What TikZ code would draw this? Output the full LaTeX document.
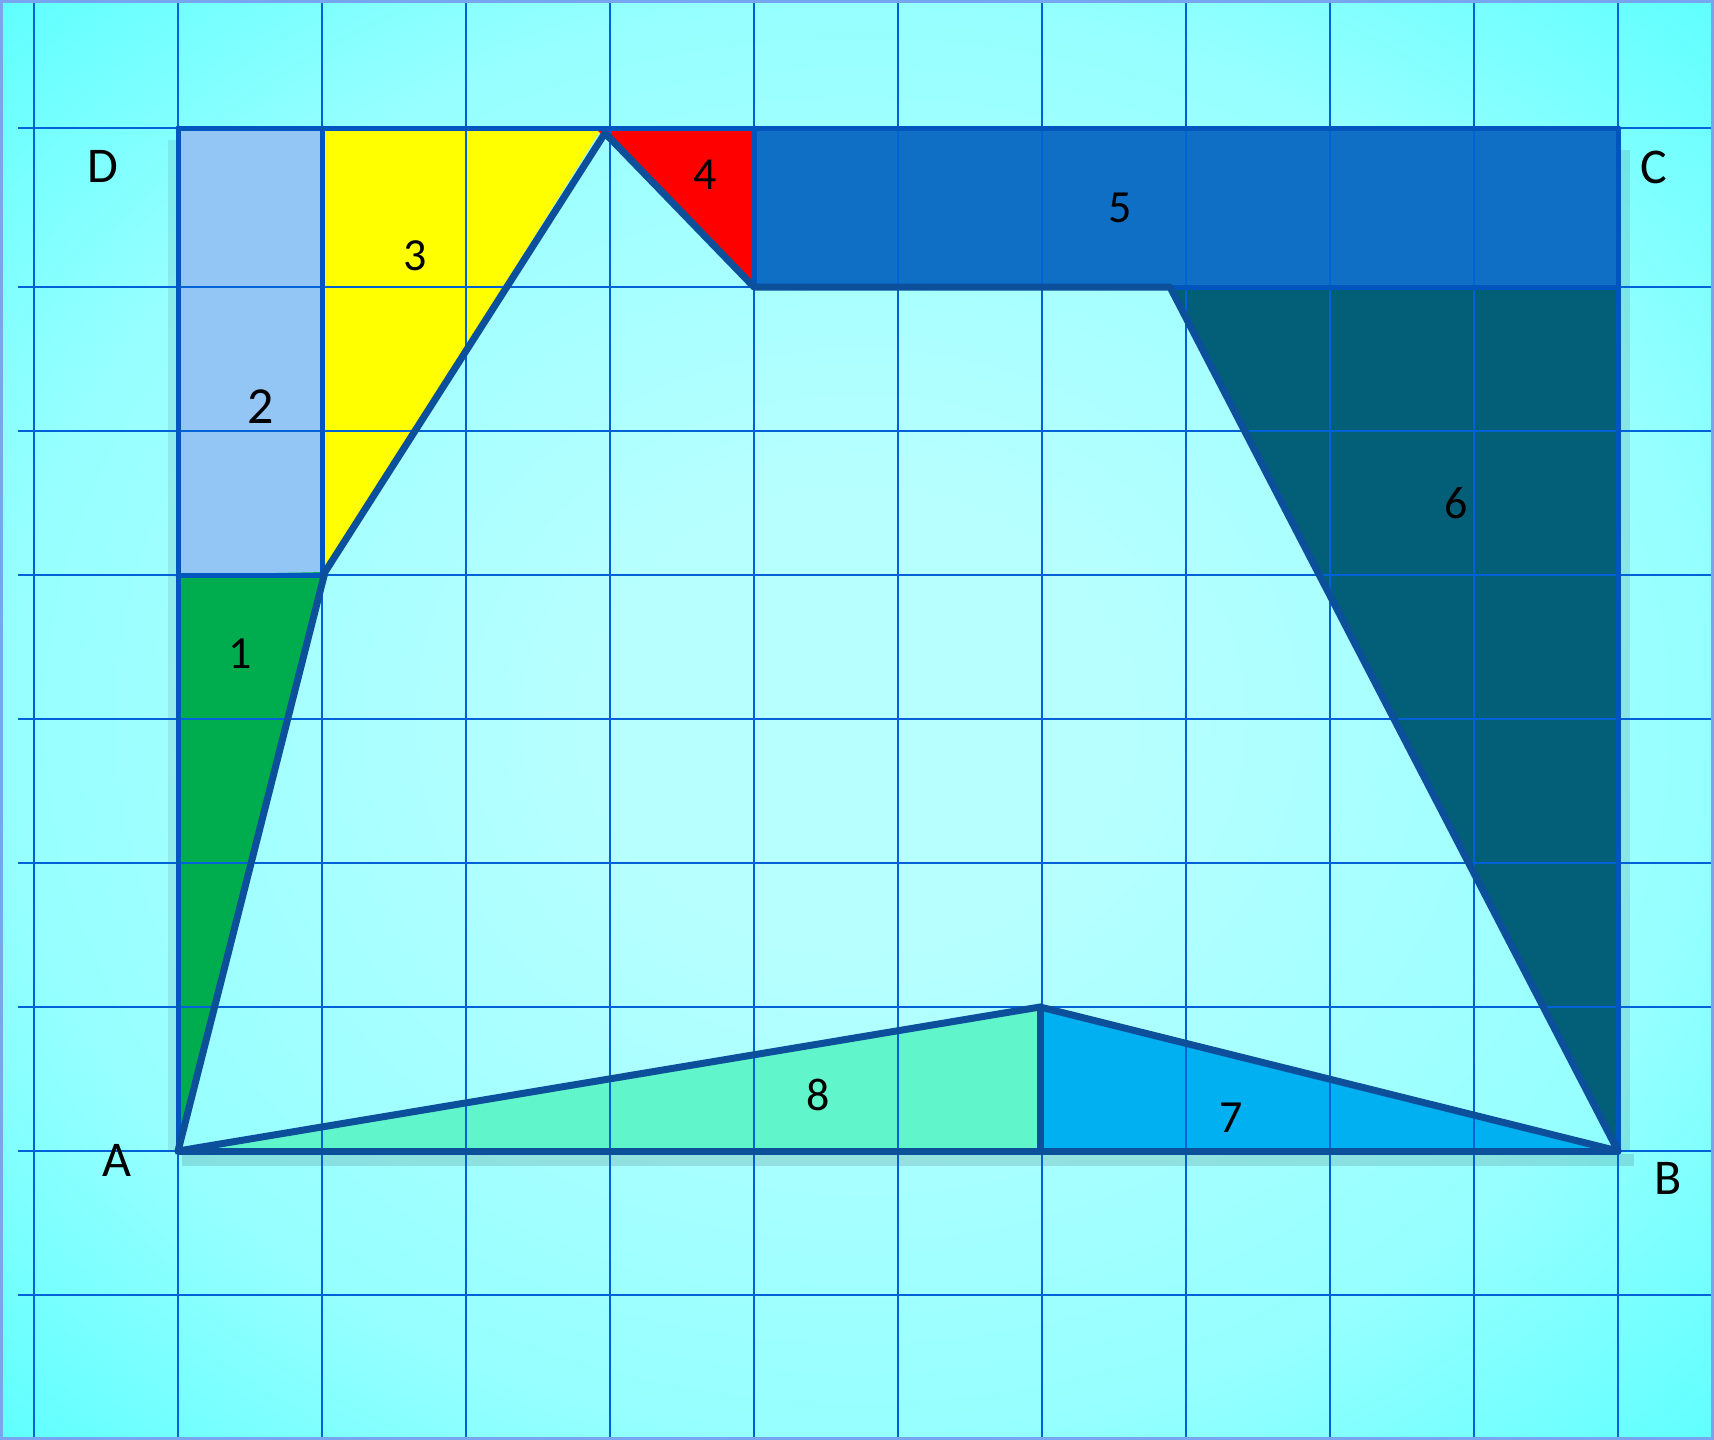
\documentclass[tikz,border=0pt]{standalone}
\usepackage{fontspec}
\setmainfont{Carlito}
\definecolor{bgin}{RGB}{183,255,255}
\definecolor{bgmid}{RGB}{150,255,255}
\definecolor{bgout}{RGB}{92,255,255}
\definecolor{gridblue}{RGB}{0,98,214}
\definecolor{outblue}{RGB}{12,80,156}
\definecolor{edgeblue}{RGB}{0,86,190}
\definecolor{framec}{RGB}{120,165,240}
\definecolor{cone}{RGB}{0,173,78}
\definecolor{ctwo}{RGB}{147,197,245}
\definecolor{cthree}{RGB}{255,255,0}
\definecolor{cfour}{RGB}{255,0,0}
\definecolor{cfive}{RGB}{14,111,197}
\definecolor{csix}{RGB}{2,95,119}
\definecolor{cseven}{RGB}{0,176,240}
\definecolor{ceight}{RGB}{96,245,202}
\pgfdeclareradialshading{bgshade}{\pgfpoint{0bp}{0bp}}{color(0bp)=(bgin); color(8bp)=(bgin); color(25bp)=(bgmid); color(36bp)=(bgout); color(50bp)=(bgout)}
\begin{document}
\begin{tikzpicture}[x=1pt,y=-1pt,
  gridline/.style={draw=gridblue,line width=2.6pt},
  outline/.style={draw=outblue,line width=7pt,line join=round,line cap=round},
  edge/.style={draw=edgeblue,line width=5pt,line cap=round},
  lbl/.style={font=\fontsize{50}{56}\selectfont,text=black,inner sep=0pt},
  num/.style={font=\fontsize{46}{52}\selectfont,text=black,inner sep=0pt}]
\useasboundingbox (0,0) rectangle (1714,1440);
% background
\shade[shading=bgshade] (0,0) rectangle (1714,1440);
% points
\coordinate (A) at (178,1151);
\coordinate (B) at (1618,1151);
\coordinate (C) at (1618,128);
\coordinate (D) at (178,128);
\coordinate (P1) at (325,572);
\coordinate (P2) at (605,133);
\coordinate (P3) at (754,287);
\coordinate (P4) at (1170,287);
\coordinate (P5) at (1040,1007);
\coordinate (Q) at (178,575);
\coordinate (R) at (322,575);
\coordinate (S) at (322,128);
\coordinate (T) at (754,128);
\coordinate (U) at (1618,287);
\coordinate (V) at (1040,1151);
% shadows
\fill[black,opacity=0.12] (182,1154) rectangle (1634,1166);
\fill[black,opacity=0.10] (1621,150) rectangle (1630,1151);
\fill[black,opacity=0.08] (168,140) rectangle (176,1151);
% fills
\fill[ctwo] (D) rectangle (R);
\fill[cthree] (S) -- (602,128) -- (P1) -- (R) -- cycle;
\fill[cfour] (595,128) -- (T) -- (P3) -- cycle;
\fill[cfive] (T) rectangle (U);
\fill[csix] (P4) -- (U) -- (B) -- cycle;
\fill[cone] (Q) -- (P1) -- (A) -- cycle;
\fill[ceight] (A) -- (P5) -- (V) -- cycle;
\fill[cseven] (P5) -- (V) -- (B) -- cycle;
% grid
\foreach \gx in {34,178,322,466,610,754,898,1042,1186,1330,1474,1618}
  \draw[gridline] (\gx,0) -- (\gx,1440);
\foreach \gy in {128,287,431,575,719,863,1007,1151,1295}
  \draw[gridline] (18,\gy) -- (1714,\gy);
% rectangle edges
\draw[edge] (D) -- (C);
\draw[edge] (D) -- (A);
\draw[edge] (S) -- (R);
\draw[edge] (Q) -- (R);
\draw[edge] (T) -- (P3);
\draw[edge] (C) -- (B);
\draw[edge] (P3) -- (U);
% main outline
\draw[outline] (A) -- (P1) -- (P2) -- (P3) -- (P4) -- (B) -- (P5) -- cycle;
\draw[outline] (A) -- (B);
\draw[outline] (P5) -- (V);
% frame
\draw[framec,line width=3pt] (1.5,1.5) rectangle (1712.5,1438.5);
% labels
\node[lbl] (lD) at (103,166) {D};
\node[lbl] (lC) at (1654,167) {C};
\node[lbl] (lA) at (117,1160) {A};
\node[lbl] (lB) at (1668,1178) {B};
\node[num] (n1) at (240,654) {1};
\node[num,font=\fontsize{52}{58}\selectfont] (n2) at (261,407) {2};
\node[num] (n3) at (415,256) {3};
\node[num] (n4) at (705,175) {4};
\node[num] (n5) at (1120,208) {5};
\node[num] (n6) at (1456,503) {6};
\node[num] (n7) at (1231,1118) {7};
\node[num] (n8) at (818,1095) {8};
\end{tikzpicture}
\end{document}
